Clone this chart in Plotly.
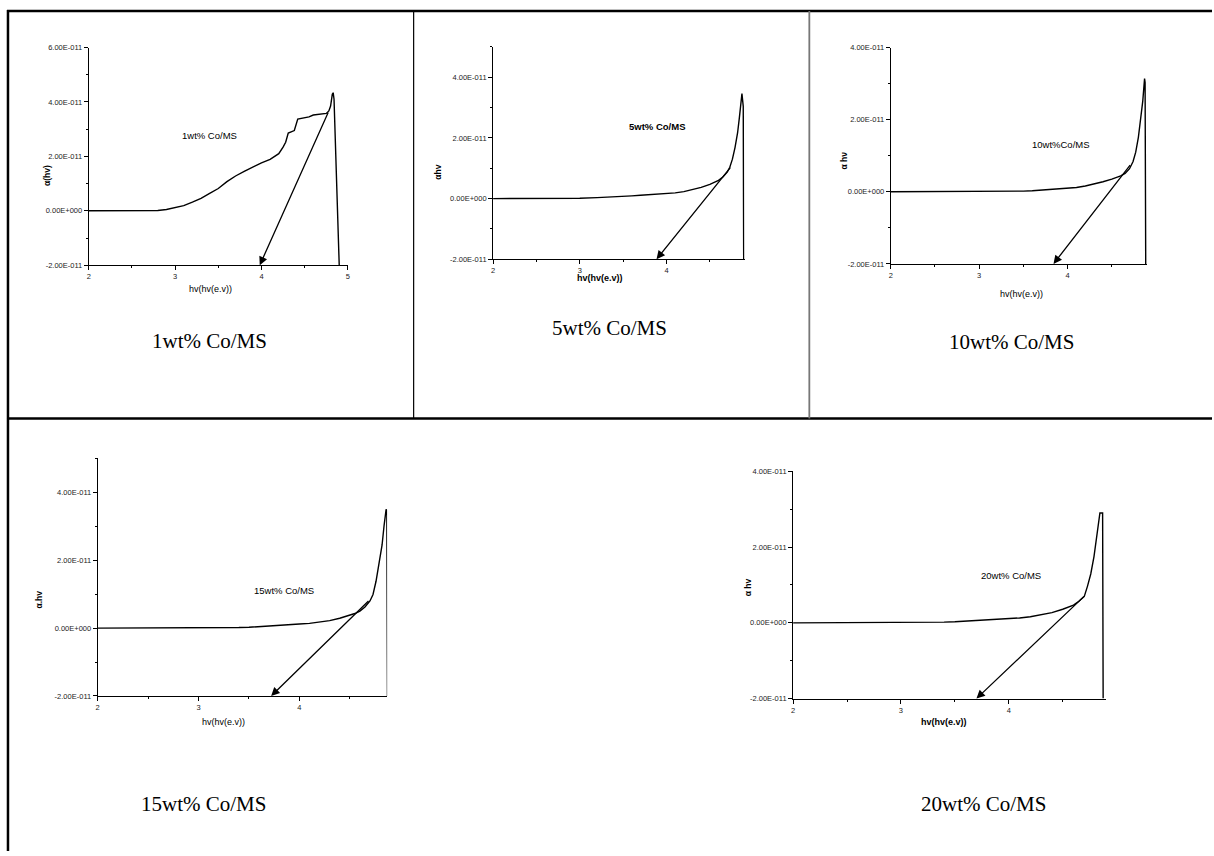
import plotly.graph_objects as go

W, H = 1214, 856
E = 1e-11  # values below are in units of 1e-11

# ---------------- data ----------------
# 1wt% Co/MS
hv_1 = [2.0, 2.5, 2.6, 2.7, 2.75, 2.8, 2.9, 3.0, 3.1, 3.2, 3.3, 3.4, 3.5, 3.6, 3.7, 3.8, 3.9, 4.0, 4.1,
        4.2, 4.25, 4.28, 4.31, 4.35, 4.38, 4.42, 4.45, 4.5, 4.55, 4.6, 4.65, 4.7, 4.75, 4.78, 4.8,
        4.82, 4.83, 4.84, 4.9]
ahv_1 = [0.0, 0.0, 0.0, 0.0, 0.003, 0.01, 0.05, 0.11, 0.19, 0.32, 0.46, 0.64, 0.82, 1.07, 1.28, 1.45,
         1.61, 1.76, 1.89, 2.10, 2.34, 2.52, 2.86, 2.92, 2.95, 3.37, 3.39, 3.43, 3.45, 3.52, 3.54, 3.58,
         3.58, 3.67, 3.85, 4.28, 4.34, 4.10, -2.0]
tan_1 = {"x0": 4.78, "y0": 3.67, "x1": 3.98, "y1": -2.0}

# 5wt% Co/MS
hv_5 = [2.0, 2.5, 3.0, 3.2, 3.4, 3.5, 3.6, 3.7, 3.8, 3.9, 4.0, 4.1, 4.2, 4.3, 4.4, 4.5, 4.6, 4.65,
        4.7, 4.73, 4.76, 4.79, 4.82, 4.84, 4.86, 4.87, 4.885, 4.89]
ahv_5 = [0.0, 0.0, 0.01, 0.03, 0.05, 0.07, 0.09, 0.11, 0.13, 0.145, 0.16, 0.19, 0.23, 0.29, 0.37,
         0.47, 0.60, 0.71, 0.87, 1.03, 1.30, 1.68, 2.17, 2.66, 3.26, 3.46, 3.04, -2.0]
tan_5 = {"x0": 4.75, "y0": 1.07, "x1": 3.885, "y1": -2.0}

# 10wt% Co/MS
hv_10 = [2.0, 2.5, 3.0, 3.2, 3.4, 3.5, 3.6, 3.7, 3.8, 3.9, 4.0, 4.1, 4.2, 4.3, 4.4, 4.5, 4.6, 4.65,
         4.7, 4.74, 4.77, 4.8, 4.83, 4.85, 4.87, 4.876, 4.883]
ahv_10 = [0.0, 0.0, 0.0, 0.005, 0.015, 0.02, 0.03, 0.045, 0.06, 0.075, 0.09, 0.12, 0.16, 0.21, 0.28,
          0.35, 0.44, 0.51, 0.64, 0.84, 1.10, 1.51, 2.06, 2.52, 3.14, 3.03, -2.0]
tan_10 = {"x0": 4.72, "y0": 0.78, "x1": 3.84, "y1": -2.0}

# 15wt% Co/MS
hv_15 = [2.0, 2.5, 2.8, 3.0, 3.2, 3.4, 3.5, 3.6, 3.7, 3.8, 3.9, 4.0, 4.1, 4.2, 4.3, 4.4, 4.5, 4.55,
         4.6, 4.65, 4.7, 4.73, 4.76, 4.79, 4.82, 4.84, 4.86, 4.867, 4.873]
ahv_15 = [0.0, 0.0, 0.0, 0.002, 0.007, 0.016, 0.025, 0.04, 0.06, 0.08, 0.10, 0.12, 0.14, 0.17, 0.22,
          0.29, 0.37, 0.43, 0.50, 0.62, 0.80, 0.99, 1.38, 1.86, 2.45, 3.03, 3.50, 3.47, -2.0]
tan_15 = {"x0": 4.70, "y0": 0.84, "x1": 3.72, "y1": -2.0}

# 20wt% Co/MS
hv_20 = [2.0, 2.5, 2.8, 3.0, 3.2, 3.4, 3.5, 3.6, 3.7, 3.8, 3.9, 4.0, 4.1, 4.2, 4.3, 4.4, 4.5, 4.6,
         4.65, 4.7, 4.73, 4.76, 4.79, 4.81, 4.83, 4.845, 4.87, 4.875]
ahv_20 = [0.0, 0.0, 0.0, 0.004, 0.01, 0.02, 0.03, 0.045, 0.065, 0.08, 0.095, 0.11, 0.13, 0.16, 0.21,
          0.27, 0.36, 0.47, 0.57, 0.70, 0.97, 1.29, 1.75, 2.14, 2.66, 2.90, 2.90, -2.0]
tan_20 = {"x0": 4.71, "y0": 0.73, "x1": 3.70, "y1": -2.0}

y_tick_vals = [-2, 0, 2, 4, 6]
y_tick_text = ["-2.00E-011", "0.00E+000", "2.00E-011", "4.00E-011", "6.00E-011"]
panel_labels = ["1wt% Co/MS", "5wt% Co/MS", "10wt%Co/MS", "15wt% Co/MS", "20wt% Co/MS"]
captions = ["1wt% Co/MS", "5wt% Co/MS", "10wt% Co/MS", "15wt% Co/MS", "20wt% Co/MS"]
y_titles = ["α(hv)", "αhv", "α hν", "α.hv", "α hv"]
x_title = "hv(hv(e.v))"

# ---------------- layout (pixel positions) ----------------
panels = [
    dict(hv=hv_1, a=ahv_1, tan=tan_1, xpx=(87, 347), ypx=(264, 44), xr=(2, 5), yr=(-2, 6),
         xt=[2, 3, 4, 5], label=(208, 133, False), ytitle=(45, 173), xtitle=(209, 288, False),
         caption=(208, 341)),
    dict(hv=hv_5, a=ahv_5, tan=tan_5, xpx=(492.7, 745), ypx=(258, 43.3), xr=(2, 4.9), yr=(-2, 5),
         xt=[2, 3, 4], label=(657, 124, True), ytitle=(438, 170), xtitle=(600, 277, True),
         caption=(610, 327)),
    dict(hv=hv_10, a=ahv_10, tan=tan_10, xpx=(891.7, 1149), ypx=(262.7, 44), xr=(2, 4.9), yr=(-2, 4),
         xt=[2, 3, 4], label=(1063, 142, False), ytitle=(845, 158), xtitle=(1023, 293, False),
         caption=(1013, 342)),
    dict(hv=hv_15, a=ahv_15, tan=tan_15, xpx=(96, 386.4), ypx=(699.3, 459.3), xr=(2, 4.87), yr=(-2, 5),
         xt=[2, 3, 4], label=(283, 593, False), ytitle=(37, 602), xtitle=(222, 726, False),
         caption=(202, 808)),
    dict(hv=hv_20, a=ahv_20, tan=tan_20, xpx=(793.7, 1107.5), ypx=(702, 472.3), xr=(2, 4.9), yr=(-2, 4),
         xt=[2, 3, 4], label=(1012, 578, False), ytitle=(748, 590), xtitle=(945, 726, True),
         caption=(985, 808)),
]

def px_x(x):
    return x / W

def px_y(y):
    return 1 - y / H

fig = go.Figure()
layout = dict(width=W, height=H, margin=dict(l=0, r=0, t=0, b=0),
              paper_bgcolor="white", plot_bgcolor="white", showlegend=False)
annotations = []
shapes = []
tickfont = dict(family="Liberation Sans, Arial", size=7.5, color="#222")

def note(x, y, text, font, **kw):
    d = dict(x=px_x(x), y=px_y(y), xref="paper", yref="paper", text=text, showarrow=False,
             xanchor="center", yanchor="middle", font=font)
    d.update(kw)
    annotations.append(d)

for i, p in enumerate(panels):
    n = "" if i == 0 else str(i + 1)
    xa, ya = "x" + n, "y" + n
    fig.add_trace(go.Scatter(x=p["hv"], y=[v * E for v in p["a"]], mode="lines",
                             line=dict(color="black", width=1.4), xaxis=xa, yaxis=ya,
                             hoverinfo="skip", cliponaxis=False))
    yv = [v for v in y_tick_vals if p["yr"][0] <= v <= p["yr"][1]]
    yt = [y_tick_text[y_tick_vals.index(v)] for v in yv]
    layout["xaxis" + n] = dict(
        domain=[px_x(p["xpx"][0]), px_x(p["xpx"][1])], range=list(p["xr"]), anchor=ya,
        showline=True, linecolor="black", linewidth=1, showgrid=False, zeroline=False,
        ticks="outside", ticklen=4, tickwidth=1, tickcolor="black", tickvals=p["xt"],
        ticktext=[str(t) for t in p["xt"]], tickfont=tickfont,
        minor=dict(ticks="outside", dtick=0.5, tick0=2, ticklen=2, tickcolor="black"),
        fixedrange=True)
    layout["yaxis" + n] = dict(
        domain=[px_y(p["ypx"][0]), px_y(p["ypx"][1])], range=[p["yr"][0] * E, p["yr"][1] * E],
        anchor=xa, showline=True, linecolor="black", linewidth=1, showgrid=False, zeroline=False,
        ticks="outside", ticklen=4, tickwidth=1, tickcolor="black",
        tickvals=[v * E for v in yv], ticktext=yt, tickfont=tickfont,
        minor=dict(ticks="outside", dtick=1 * E, tick0=0, ticklen=2, tickcolor="black"),
        fixedrange=True)
    # tangent arrow
    t = p["tan"]
    annotations.append(dict(x=t["x1"], y=t["y1"] * E, ax=t["x0"], ay=t["y0"] * E,
                            xref=xa, yref=ya, axref=xa, ayref=ya, showarrow=True,
                            arrowhead=2, arrowsize=1.3, arrowwidth=1.3, arrowcolor="black",
                            text=""))
    sans = dict(family="Liberation Sans, Arial", color="black")
    lx, ly, bold = p["label"]
    note(lx, ly, ("<b>%s</b>" % panel_labels[i]) if bold else panel_labels[i], dict(sans, size=9.5))
    tx, ty = p["ytitle"]
    note(tx, ty, "<b>%s</b>" % y_titles[i], dict(sans, size=8.5), textangle=-90)
    hx, hy, hb = p["xtitle"]
    note(hx, hy, ("<b>%s</b>" % x_title) if hb else x_title, dict(sans, size=9))
    cx, cy = p["caption"]
    note(cx, cy, captions[i], dict(family="Liberation Serif, Times New Roman", size=21,
                                   color="black"))

# table frame lines
def hline(y, x0, x1, w, c="black"):
    shapes.append(dict(type="line", xref="paper", yref="paper", x0=px_x(x0), x1=px_x(x1),
                       y0=px_y(y), y1=px_y(y), line=dict(color=c, width=w)))

def vline(x, y0, y1, w, c="black"):
    shapes.append(dict(type="line", xref="paper", yref="paper", x0=px_x(x), x1=px_x(x),
                       y0=px_y(y0), y1=px_y(y1), line=dict(color=c, width=w)))

hline(7, 5, W, 2.5)
hline(419, 5, W, 2.5)
vline(6, 6, H, 2.5)
vline(413, 7, 419, 1.2)
vline(810, 7, 419, 1.8, "#777")

layout["annotations"] = annotations
layout["shapes"] = shapes
fig.update_layout(**layout)
fig.write_html("out.html", config={"displayModeBar": False},
               post_script="document.body.style.margin='0';document.body.style.padding='0';"
                           "document.body.style.overflow='hidden';")
